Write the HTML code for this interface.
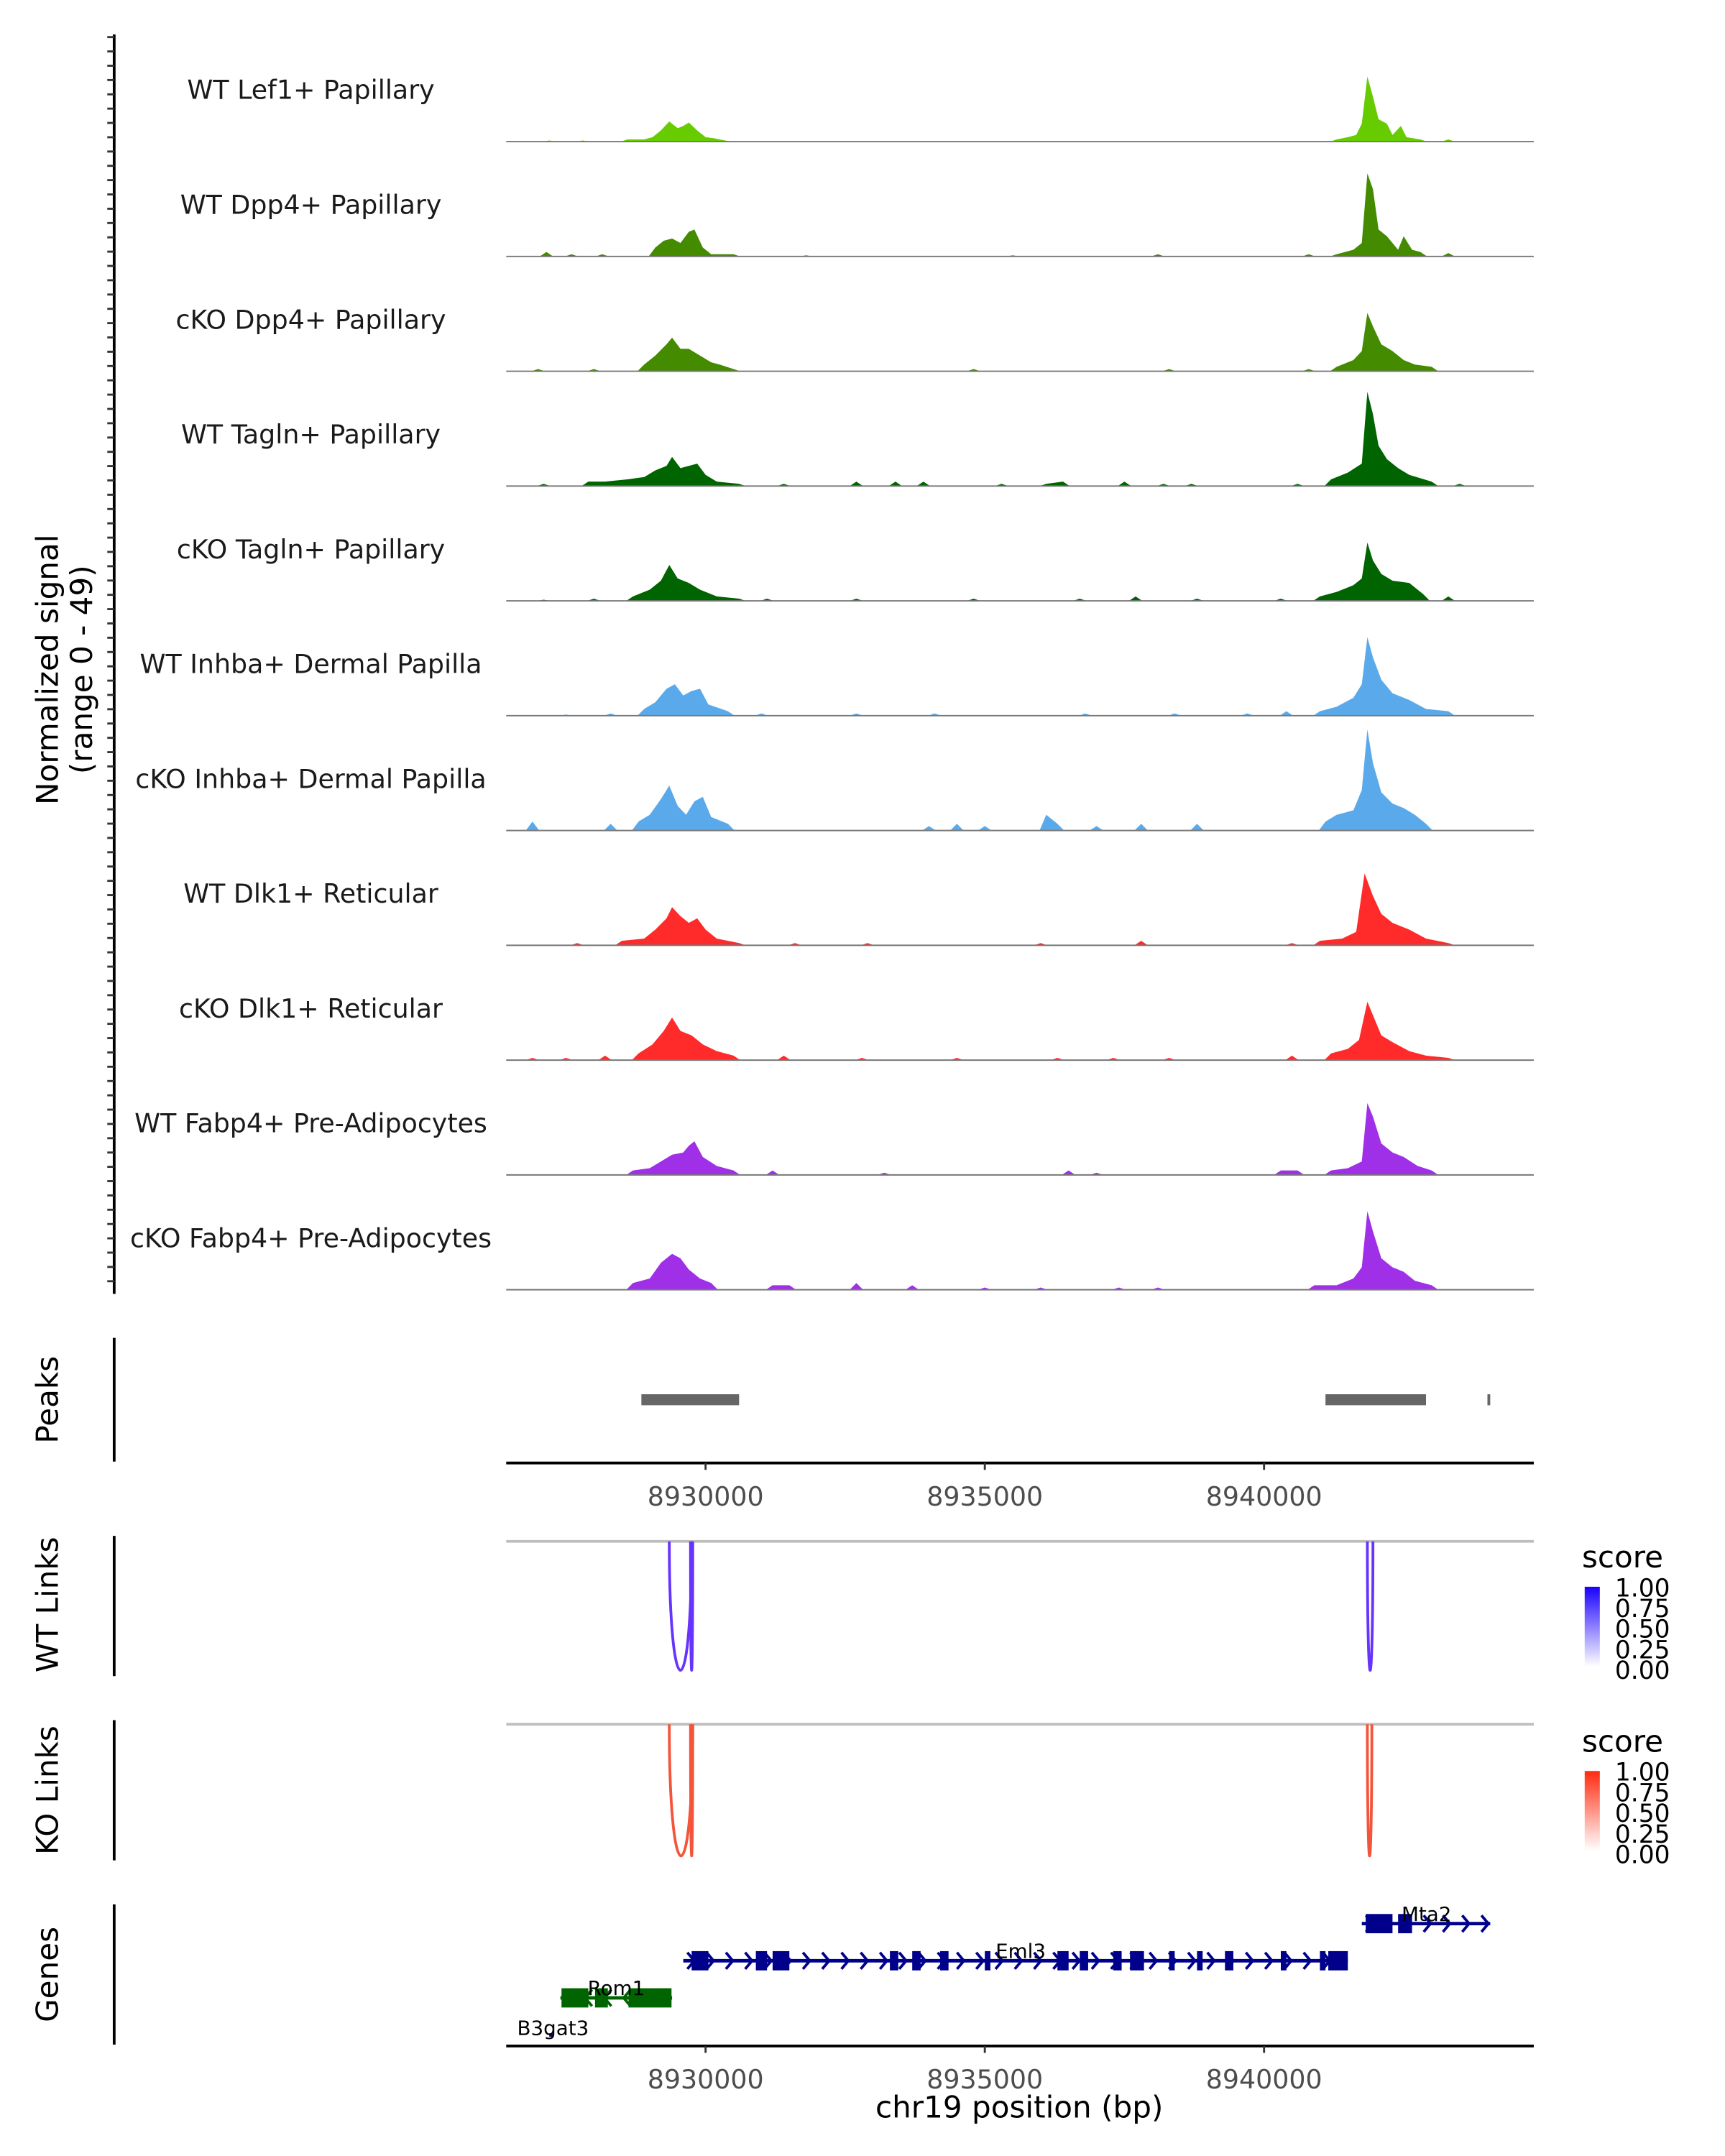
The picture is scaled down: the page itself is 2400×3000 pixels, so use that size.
<!DOCTYPE html>
<html><head><meta charset="utf-8"><style>
html,body{margin:0;padding:0;background:#fff}
svg{display:block}
text{font-family:"DejaVu Sans","Liberation Sans",sans-serif}
</style></head><body>
<svg id="chart" xmlns="http://www.w3.org/2000/svg" width="2400" height="3000" viewBox="0 0 1254 1568" preserveAspectRatio="none">
<defs>
<linearGradient id="gBlue" x1="0" y1="1" x2="0" y2="0"><stop offset="0" stop-color="#ffffff"/><stop offset="1" stop-color="#1a00ff"/></linearGradient>
<linearGradient id="gRed" x1="0" y1="1" x2="0" y2="0"><stop offset="0" stop-color="#ffffff"/><stop offset="1" stop-color="#ff2a10"/></linearGradient>
</defs>
<g id="static">
<text transform="translate(42,487) rotate(-90)" font-size="22" text-anchor="middle">Normalized signal</text>
<text transform="translate(67,487) rotate(-90)" font-size="22" text-anchor="middle">(range 0 - 49)</text>
<line x1="83" y1="25" x2="83" y2="941" stroke="#000" stroke-width="2"/>
<text transform="translate(42,1018) rotate(-90)" font-size="22" text-anchor="middle">Peaks</text>
<line x1="83" y1="973" x2="83" y2="1063" stroke="#000" stroke-width="2"/>
<line x1="368" y1="1064" x2="1115" y2="1064" stroke="#000" stroke-width="2"/>
<text transform="translate(42,1167) rotate(-90)" font-size="22" text-anchor="middle">WT Links</text>
<line x1="83" y1="1117" x2="83" y2="1219" stroke="#000" stroke-width="2"/>
<line x1="368" y1="1121" x2="1115" y2="1121" stroke="#bebebe" stroke-width="2"/>
<text transform="translate(42,1302) rotate(-90)" font-size="22" text-anchor="middle">KO Links</text>
<line x1="83" y1="1251" x2="83" y2="1353" stroke="#000" stroke-width="2"/>
<line x1="368" y1="1254" x2="1115" y2="1254" stroke="#bebebe" stroke-width="2"/>
<text transform="translate(42,1436) rotate(-90)" font-size="22" text-anchor="middle">Genes</text>
<line x1="83" y1="1385" x2="83" y2="1487" stroke="#000" stroke-width="2"/>
<line x1="368" y1="1488" x2="1115" y2="1488" stroke="#000" stroke-width="2"/>
<text x="741" y="1540" font-size="22" text-anchor="middle">chr19 position (bp)</text>
<g>
<text x="1150" y="1140" font-size="22">score</text>
<rect x="1152" y="1154" width="11" height="58" fill="url(#gBlue)"/>
<g font-size="18"><text x="1174" y="1161">1.00</text><text x="1174" y="1176">0.75</text><text x="1174" y="1191">0.50</text><text x="1174" y="1206">0.25</text><text x="1174" y="1221">0.00</text></g>
</g>
<g>
<text x="1150" y="1274" font-size="22">score</text>
<rect x="1152" y="1288" width="11" height="58" fill="url(#gRed)"/>
<g font-size="18"><text x="1174" y="1295">1.00</text><text x="1174" y="1310">0.75</text><text x="1174" y="1325">0.50</text><text x="1174" y="1340">0.25</text><text x="1174" y="1355">0.00</text></g>
</g>
</g>
<g id="dyn"></g>
</svg>
<script>
// region and axis
var regionStart = 8926430, regionEnd = 8944830;
var xTicks = [8930000, 8935000, 8940000];
var trackNames = ["WT Lef1+ Papillary","WT Dpp4+ Papillary","cKO Dpp4+ Papillary","WT Tagln+ Papillary","cKO Tagln+ Papillary","WT Inhba+ Dermal Papilla","cKO Inhba+ Dermal Papilla","WT Dlk1+ Reticular","cKO Dlk1+ Reticular","WT Fabp4+ Pre-Adipocytes","cKO Fabp4+ Pre-Adipocytes"];
var trackColors = ["#66cc00","#448b00","#448b00","#006400","#006400","#5aaaeb","#5aaaeb","#ff2a2a","#ff2a2a","#a030e8","#a030e8"];
// signal per track: [position bp, value]
var sigLef1 = [[8927200,0.5],[8927800,0.5],[8928600,1],[8928900,1],[8929050,2],[8929200,5],[8929350,9],[8929500,6],[8929600,7],[8929700,8.5],[8929850,5],[8930000,2],[8930150,1.5],[8930350,0.5],[8941300,1],[8941500,2],[8941650,3],[8941750,8],[8941850,29],[8941950,20],[8942050,10],[8942200,8],[8942300,3],[8942450,7],[8942550,2],[8942800,1],[8943300,1]];
var sigDpp4WT = [[8927150,2],[8927600,1],[8928150,1],[8929100,4],[8929250,7],[8929400,8],[8929550,6],[8929700,11],[8929800,12],[8929950,4],[8930100,1],[8930500,1],[8931800,0.5],[8935500,0.5],[8938100,1],[8940800,1],[8941300,1],[8941600,3],[8941750,6],[8941850,37],[8941950,30],[8942050,12],[8942200,9],[8942400,3],[8942500,9],[8942650,3],[8942800,2],[8943300,1.5]];
var sigDpp4KO = [[8927000,1],[8928000,1],[8928900,3],[8929100,7],[8929300,12],[8929400,15],[8929550,10],[8929700,10],[8929900,7],[8930100,4],[8930250,3],[8930500,1],[8934800,1],[8938300,1],[8940800,1],[8941300,2],[8941600,5],[8941750,9],[8941850,26],[8941950,20],[8942100,12],[8942300,9],[8942500,5],[8942700,3],[8943000,2]];
var sigTaglnWT = [[8927100,1],[8927900,2],[8928200,2],[8928600,3],[8928900,4],[8929100,7],[8929300,9],[8929400,13],[8929550,8],[8929700,9],[8929850,10],[8930000,5],[8930200,2],[8930600,1],[8931400,1],[8932700,2],[8933400,2],[8933900,2],[8935300,1],[8936100,1],[8936400,2],[8937500,2],[8938200,1],[8938700,1],[8940600,1],[8941200,3],[8941500,6],[8941750,10],[8941850,42],[8941950,32],[8942050,18],[8942200,12],[8942400,8],[8942600,5],[8943000,2],[8943500,1]];
var sigTaglnKO = [[8927100,0.5],[8928000,1],[8928700,2],[8929000,5],[8929200,9],[8929350,16],[8929500,10],[8929700,8],[8929900,5],[8930200,2],[8930600,1],[8931100,1],[8932700,1],[8934800,1],[8936700,1],[8937700,2],[8938800,1],[8940300,1],[8941000,2],[8941300,4],[8941600,7],[8941750,10],[8941850,26],[8941950,18],[8942100,12],[8942300,9],[8942600,8],[8942850,3],[8943300,2]];
var sigInhbaWT = [[8927500,0.5],[8928300,1],[8928900,3],[8929100,6],[8929300,12],[8929450,14],[8929600,9],[8929750,11],[8929900,12],[8930050,5],[8930400,2],[8931000,1],[8932700,1],[8934100,1],[8936800,1],[8938400,1],[8939700,1],[8940400,2],[8941000,2],[8941300,4],[8941600,8],[8941750,14],[8941850,35],[8941950,26],[8942100,16],[8942300,10],[8942600,7],[8942900,3],[8943300,2]];
var sigInhbaKO = [[8926900,4],[8928300,3],[8928800,4],[8929000,7],[8929200,14],[8929350,20],[8929500,11],[8929650,7],[8929800,13],[8929950,15],[8930100,6],[8930400,3],[8934000,2],[8934500,3],[8935000,2],[8936100,7],[8936300,3],[8937000,2],[8937800,3],[8938800,3],[8941100,4],[8941300,7],[8941600,9],[8941750,18],[8941850,45],[8941950,30],[8942100,17],[8942300,12],[8942500,10],[8942700,7],[8942900,3]];
var sigDlk1WT = [[8927700,1],[8928500,2],[8928900,3],[8929100,7],[8929300,12],[8929400,17],[8929550,13],[8929700,10],[8929850,12],[8930000,7],[8930200,3],[8930600,1],[8931600,1],[8932900,1],[8936000,1],[8937800,2],[8940500,1],[8941000,2],[8941400,3],[8941650,6],[8941800,32],[8941950,22],[8942100,14],[8942300,10],[8942600,7],[8942900,3],[8943300,1]];
var sigDlk1KO = [[8926900,1],[8927500,1],[8928200,2],[8928800,3],[8929050,7],[8929250,13],[8929400,19],[8929550,13],[8929750,11],[8929950,7],[8930200,4],[8930500,2],[8931400,2],[8932800,1],[8934500,1],[8936300,1],[8937300,1],[8938300,1],[8940500,2],[8941200,3],[8941500,5],[8941700,9],[8941850,26],[8941950,20],[8942100,11],[8942300,8],[8942600,4],[8942900,2],[8943300,1]];
var sigFabp4WT = [[8928700,2],[8929000,3],[8929200,6],[8929400,9],[8929600,10],[8929700,13],[8929800,15],[8929950,8],[8930200,4],[8930500,2],[8931200,2],[8933200,1],[8936500,2],[8937000,1],[8940300,2],[8940600,2],[8941200,2],[8941500,3],[8941750,6],[8941850,32],[8941950,26],[8942100,14],[8942300,10],[8942500,8],[8942750,4],[8943000,2]];
var sigFabp4KO = [[8928700,3],[8929000,5],[8929200,12],[8929400,16],[8929550,14],[8929700,9],[8929900,5],[8930100,3],[8931200,2],[8931500,2],[8932700,3],[8933700,2],[8935000,1],[8936000,1],[8937400,1],[8938100,1],[8940900,2],[8941300,2],[8941600,5],[8941750,10],[8941850,35],[8941950,26],[8942100,14],[8942300,10],[8942500,8],[8942700,4],[8943000,2]];
var signals = [sigLef1,sigDpp4WT,sigDpp4KO,sigTaglnWT,sigTaglnKO,sigInhbaWT,sigInhbaKO,sigDlk1WT,sigDlk1KO,sigFabp4WT,sigFabp4KO];
// called peaks [start, end]
var peakStarts = [8928850, 8941100, 8944000];
var peakEnds = [8930600, 8942900, 8944050];
// links [start, end]
var wtLinkStart = [8929350, 8929730, 8941850];
var wtLinkEnd = [8929750, 8929770, 8941950];
var koLinkStart = [8929350, 8929730, 8941850];
var koLinkEnd = [8929770, 8929770, 8941930];
// genes
var geneNames = ["Mta2","Eml3","Rom1","B3gat3"];
var geneStarts = [8941750, 8929600, 8927400, 8927200];
var geneEnds = [8944050, 8941500, 8929400, 8927260];
var geneRows = [0,1,2,3];
var geneColors = ["#00008b","#00008b","#006400","#00008b"];
var exonStarts = [[8941820,8942400],[8929750,8930900,8931200,8933300,8933700,8934200,8935000,8936300,8936700,8937300,8937600,8938300,8938800,8939300,8940300,8941000,8941150],[8927420,8928020,8928620],[]];
var exonEnds = [[8942300,8942650],[8930050,8931100,8931500,8933450,8933850,8934350,8935100,8936500,8936850,8937450,8937850,8938400,8938900,8939450,8940400,8941100,8941500],[8927900,8928250,8929390],[]];

var NS='http://www.w3.org/2000/svg';
var dyn=document.getElementById('dyn');
var plotL=368, plotR=1115;
function xs(bp){return plotL+(bp-regionStart)/(regionEnd-regionStart)*(plotR-plotL);}
var baseY0=103, trackStep=83.5, trackH=80, yMax=49;
function ys(v,i){return baseY0+i*trackStep - v/yMax*trackH;}
function mk(tag,attrs,parent){var e=document.createElementNS(NS,tag);for(var k in attrs)e.setAttribute(k,attrs[k]);(parent||dyn).appendChild(e);return e;}

// signal tracks
for(var i=0;i<signals.length;i++){
  var base=baseY0+i*trackStep;
  var g=mk('g',{});
  
  
  var pts=signals[i];
  var d='M'+plotL+','+base;
  for(var j=0;j<pts.length;j++){
    var pos=pts[j][0];
    var prevGap = j>0 ? pos-pts[j-1][0] : 1e9;
    if(prevGap>400){
      if(j>0) d+=' L'+xs(pts[j-1][0]+120)+','+base;
      d+=' L'+xs(pos-120)+','+base;
    }
    d+=' L'+xs(pos)+','+ys(pts[j][1],i);
  }
  d+=' L'+xs(pts[pts.length-1][0]+120)+','+base+' L'+plotR+','+base+' Z';
  var p=mk('path',{d:d,fill:trackColors[i]},g);
  
  
  var bl=mk('line',{x1:plotL,x2:plotR,y1:base,y2:base,stroke:'#777','stroke-width':1},g);
  
  
  var t=mk('text',{x:226,y:base-31,'font-size':19,'text-anchor':'middle',fill:'#1a1a1a'},g);
  t.textContent=trackNames[i];
  
  
}
// left axis ticks
for(var ty=27;ty<=940;ty+=10.4){
  var tk=mk('line',{x1:78,x2:83,y1:ty,y2:ty,stroke:'#333','stroke-width':1.5});
  
  
}
// peaks
for(var i=0;i<peakStarts.length;i++){
  var r=mk('rect',{x:xs(peakStarts[i]),y:1014,width:Math.max(2,xs(peakEnds[i])-xs(peakStarts[i])),height:8,fill:'#666'});
  
  
}
// x ticks
[1064,1488].forEach(function(ay){
  xTicks.forEach(function(tv){
    var l=mk('line',{x1:xs(tv),x2:xs(tv),y1:ay,y2:ay+5,stroke:'#333','stroke-width':1.5});
    
    
    var t=mk('text',{x:xs(tv),y:ay+31,'font-size':19,fill:'#4d4d4d','text-anchor':'middle'});
    t.textContent=tv;
    
    
  });
});
// links
function drawLinks(st,en,top,bottom,col,name){
  for(var i=0;i<st.length;i++){
    var a=xs(st[i]),b=xs(en[i]);
    var p=mk('path',{d:'M'+a+','+top+' C'+a+','+(bottom+(bottom-top)*0.33)+' '+b+','+(bottom+(bottom-top)*0.33)+' '+b+','+top,fill:'none',stroke:col,'stroke-width':2});
    
    
  }
}
drawLinks(wtLinkStart,wtLinkEnd,1121,1215,'#6633ff','wt-link-arc');
drawLinks(koLinkStart,koLinkEnd,1254,1350,'#f4553a','ko-link-arc');
// genes
var rowY=[1399,1426,1453,1480];
for(var i=0;i<geneNames.length;i++){
  var y=rowY[geneRows[i]], c=geneColors[i];
  var g=mk('g',{});
  
  
  var x1=xs(geneStarts[i]), x2=xs(geneEnds[i]);
  mk('line',{x1:x1,x2:x2,y1:y,y2:y,stroke:c,'stroke-width':2.5},g);
  var dir = (geneNames[i]==="Rom1")?-1:1;
  for(var ax=x1+6;ax<x2-2;ax+=14){
    mk('path',{d:'M'+(ax-3*dir)+','+(y-6)+' L'+(ax+2*dir)+','+y+' L'+(ax-3*dir)+','+(y+6),fill:'none',stroke:c,'stroke-width':2},g);
  }
  for(var j=0;j<exonStarts[i].length;j++){
    var ex1=xs(exonStarts[i][j]), ex2=xs(exonEnds[i][j]);
    mk('rect',{x:ex1,y:y-7,width:Math.max(3,ex2-ex1),height:14,fill:c},g);
  }
  var lx=(geneNames[i]==="Mta2")?1037:(geneNames[i]==="Eml3")?742:(geneNames[i]==="Rom1")?448:402;
  var ly=(geneNames[i]==="B3gat3")?y:y-2;
  var t=mk('text',{x:lx,y:ly,'font-size':14.5,'text-anchor':'middle'},g);
  t.textContent=geneNames[i];
}
</script>
</body></html>
